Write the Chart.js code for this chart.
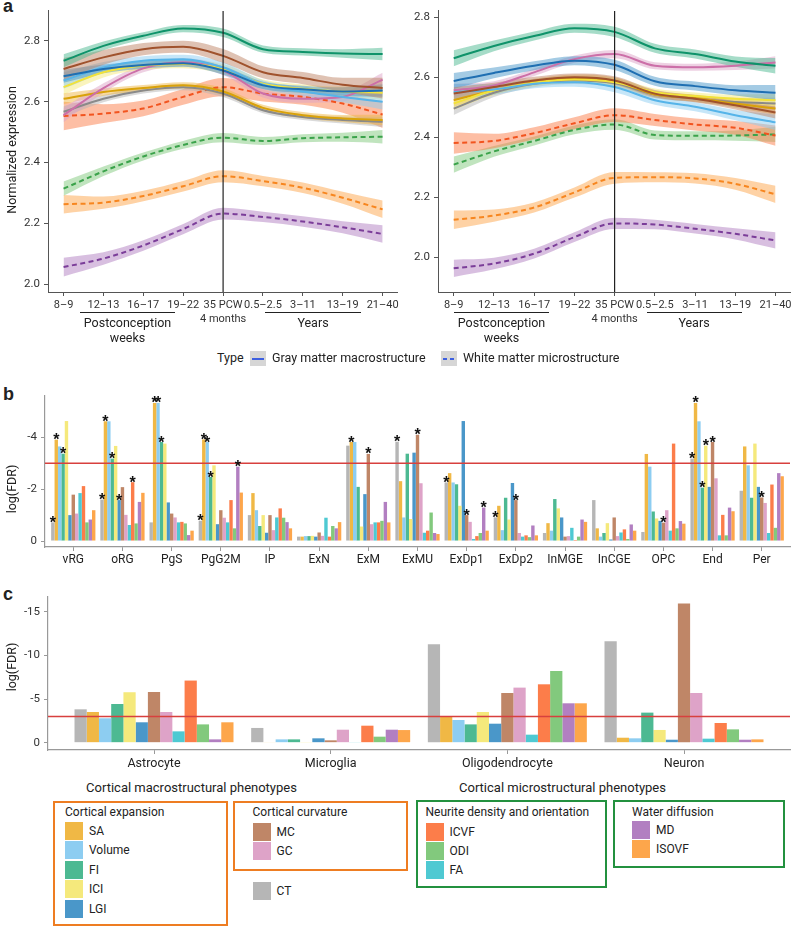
<!DOCTYPE html>
<html lang="en">
<head>
<meta charset="UTF-8">
<meta name="viewport" content="width=device-width, initial-scale=1.0">
<title>Imaging phenotypes: expression trajectories and cell-type enrichment</title>
<script src="https://cdn.jsdelivr.net/npm/chart.js"></script>
<style>
  body { margin: 0; width: 796px; height: 930px; position: relative; overflow: hidden; background: #fff;
         font-family: Roboto, "Liberation Sans", Arial, sans-serif; color: #222; }
  canvas { position: absolute; }
  .t { position: absolute; white-space: nowrap; line-height: 16px; }
  .letter { position: absolute; font-family: "Liberation Sans", Arial, sans-serif; font-weight: bold; font-size: 18px; line-height: 18px; }
  .box { position: absolute; box-sizing: border-box; border: 2.5px solid; }
  .sw { position: absolute; width: 18px; height: 18px; }
  .hr { position: absolute; height: 1px; background: #222; }
</style>
</head>
<body>
<div class="letter" style="left:3px;top:-3px">a</div>
<div class="letter" style="left:3px;top:385px">b</div>
<div class="letter" style="left:3px;top:585px">c</div>
<canvas id="aLeft" width="400" height="330" style="left:0;top:0"></canvas>
<canvas id="aRight" width="396" height="330" style="left:400px;top:0"></canvas>
<canvas id="bChart" width="796" height="190" style="left:0;top:385px"></canvas>
<canvas id="cChart" width="796" height="190" style="left:0;top:585px"></canvas>
<div id="overlay"></div>

<script>
// ---------- panel a: expression trajectories ----------
const ageLabels = ['8–9', '12–13', '16–17', '19–22', ['35 PCW', '4 months'], '0.5–2.5', '3–11', '13–19', '21–40'];
const birthIndex = 4;
const exprTicks = [2.0, 2.2, 2.4, 2.6, 2.8];
const trajNames = ['FI', 'MC', 'LGI', 'Volume', 'ICI', 'GC', 'SA', 'CT', 'ICVF', 'ODI', 'ISOVF', 'MD'];
const trajLineColors = ['#0f936a', '#a0522d', '#1f6fb2', '#56b4e9', '#f2e23a', '#cc6fa8', '#d9a20a', '#8a8a8a',
                        '#f2541f', '#3ba34b', '#f7861f', '#7b3d99'];
const trajDashed = [false, false, false, false, false, false, false, false, true, true, true, true];
const bandShape = [1.8, 1.2, 1.0, 1.0, 1.15, 1.0, 1.0, 1.15, 1.7];

const leftFI = [2.735, 2.784, 2.817, 2.841, 2.827, 2.773, 2.764, 2.759, 2.757];
const leftMC = [2.708, 2.746, 2.773, 2.781, 2.751, 2.697, 2.678, 2.656, 2.645];
const leftLGI = [2.684, 2.708, 2.721, 2.727, 2.703, 2.654, 2.641, 2.634, 2.637];
const leftVolume = [2.670, 2.713, 2.735, 2.740, 2.713, 2.656, 2.634, 2.616, 2.600];
const leftICI = [2.648, 2.697, 2.719, 2.724, 2.708, 2.659, 2.643, 2.634, 2.630];
const leftGC = [2.556, 2.645, 2.710, 2.730, 2.703, 2.627, 2.610, 2.616, 2.673];
const leftSA = [2.610, 2.632, 2.645, 2.654, 2.634, 2.580, 2.556, 2.545, 2.540];
const leftCT = [2.567, 2.610, 2.637, 2.648, 2.627, 2.572, 2.550, 2.540, 2.534];
const leftICVF = [2.553, 2.561, 2.578, 2.616, 2.648, 2.627, 2.616, 2.594, 2.558];
const leftODI = [2.314, 2.371, 2.420, 2.458, 2.482, 2.471, 2.480, 2.483, 2.485];
const leftISOVF = [2.263, 2.268, 2.290, 2.322, 2.355, 2.339, 2.317, 2.284, 2.246];
const leftMD = [2.056, 2.084, 2.127, 2.181, 2.232, 2.221, 2.206, 2.187, 2.165];
const leftBand = [0.012, 0.02, 0.012, 0.015, 0.014, 0.013, 0.01, 0.01, 0.026, 0.013, 0.017, 0.017];

const rightFI = [2.664, 2.705, 2.738, 2.764, 2.752, 2.697, 2.678, 2.653, 2.639];
const rightMC = [2.546, 2.568, 2.590, 2.601, 2.590, 2.546, 2.529, 2.507, 2.483];
const rightLGI = [2.588, 2.615, 2.639, 2.656, 2.642, 2.587, 2.571, 2.557, 2.549];
const rightVolume = [2.551, 2.560, 2.579, 2.584, 2.568, 2.524, 2.502, 2.474, 2.450];
const rightICI = [2.513, 2.557, 2.582, 2.593, 2.584, 2.551, 2.538, 2.529, 2.524];
const rightGC = [2.557, 2.573, 2.617, 2.661, 2.678, 2.639, 2.634, 2.639, 2.650];
const rightSA = [2.524, 2.557, 2.584, 2.598, 2.587, 2.543, 2.531, 2.513, 2.496];
const rightCT = [2.496, 2.549, 2.579, 2.590, 2.581, 2.543, 2.529, 2.518, 2.513];
const rightICVF = [2.381, 2.388, 2.414, 2.447, 2.474, 2.458, 2.443, 2.432, 2.406];
const rightODI = [2.309, 2.353, 2.388, 2.425, 2.443, 2.408, 2.405, 2.406, 2.410];
const rightISOVF = [2.125, 2.139, 2.166, 2.216, 2.265, 2.267, 2.263, 2.245, 2.210];
const rightMD = [1.963, 1.979, 2.012, 2.067, 2.113, 2.109, 2.095, 2.078, 2.056];
const rightBand = [0.015, 0.012, 0.015, 0.015, 0.012, 0.012, 0.012, 0.012, 0.02, 0.015, 0.017, 0.016];

// ---------- panels b and c: enrichment log(FDR) ----------
const phenoNames = ['CT', 'SA', 'Volume', 'FI', 'ICI', 'LGI', 'MC', 'GC', 'FA', 'ICVF', 'ODI', 'MD', 'ISOVF'];
const phenoColors = ['#b6b6b6', '#f0b845', '#8dcdf1', '#4db992', '#f5e97c', '#4a97c9', '#bf8667', '#dea3c8',
                     '#4ec9d2', '#fc7d4a', '#82c97d', '#b27fc1', '#fda64b'];
const fdrThreshold = -3;

const devCellTypes = ['vRG', 'oRG', 'PgS', 'PgG2M', 'IP', 'ExN', 'ExM', 'ExMU', 'ExDp1', 'ExDp2', 'InMGE', 'InCGE', 'OPC', 'End', 'Per'];
const devTicks = [-4, -2, 0];
const bCT = [-0.72, -1.6, -0.72, -0.78, -1.0, -0.17, -3.68, -3.83, -2.26, -0.91, -0.31, -1.58, -0.35, -3.18, -1.94];
const bSA = [-3.91, -4.62, -5.33, -3.92, -1.85, -0.17, -3.82, -2.31, -2.62, -1.36, -0.69, -0.49, -3.36, -5.33, -3.65];
const bVolume = [-3.65, -4.62, -5.33, -3.82, -1.19, -0.19, -3.82, -0.91, -2.26, -0.42, -0.4, -0.17, -2.87, -4.62, -2.92];
const bFI = [-3.37, -3.18, -3.82, -2.47, -0.58, -0.19, -2.09, -3.37, -2.19, -1.67, -1.62, -0.31, -1.14, -2.06, -1.67];
const bICI = [-4.63, -3.67, -3.76, -2.92, -1.0, -0.2, -0.56, -0.85, -1.36, -0.83, -1.26, -0.69, -0.87, -3.68, -3.76];
const bLGI = [-1.0, -1.58, -1.49, -0.65, -0.32, -0.17, -1.81, -3.41, -4.63, -2.24, -0.91, -0.06, -0.78, -2.09, -2.09];
const bMC = [-1.79, -2.08, -1.06, -1.19, -1.0, -0.33, -3.36, -4.1, -1.0, -1.58, -0.17, -0.91, -0.71, -3.82, -1.68];
const bGC = [-1.06, -1.01, -0.91, -0.9, -0.42, -0.2, -0.65, -2.23, -0.74, -0.31, -0.19, -0.19, -1.19, -2.42, -1.47];
const bFA = [-1.85, -0.62, -0.72, -0.72, -0.91, -0.9, -0.72, -0.32, -0.08, -0.17, -0.51, -0.33, -0.4, -0.22, -0.31];
const bICVF = [-2.12, -2.27, -0.74, -1.58, -1.26, -0.17, -0.72, -0.4, -0.19, -0.22, -0.04, -0.45, -3.76, -1.01, -2.18];
const bODI = [-0.72, -0.68, -0.68, -0.49, -0.9, -0.58, -0.78, -1.1, -0.31, -0.15, -0.17, -0.08, -0.49, -0.22, -0.51];
const bMD = [-0.83, -1.51, -0.23, -2.87, -0.73, -0.49, -1.51, -0.31, -1.29, -0.6, -0.83, -0.64, -0.77, -1.29, -2.62];
const bISOVF = [-1.19, -1.86, -0.4, -1.87, -0.49, -0.73, -0.72, -0.27, -0.4, -0.22, -0.74, -0.4, -0.67, -1.15, -2.5];
// [cell type index, phenotype index] pairs marked with an asterisk
const bStars = [[0, 0], [0, 1], [0, 3], [1, 0], [1, 1], [1, 3], [1, 5], [1, 9], [2, 1], [2, 2], [2, 3],
                [3, 0], [3, 1], [3, 2], [3, 3], [3, 11], [6, 1], [6, 6], [7, 0], [7, 6], [8, 0], [8, 6], [8, 11],
                [9, 0], [9, 6], [12, 6], [13, 0], [13, 1], [13, 3], [13, 4], [13, 6], [14, 6]];

const adultCellTypes = ['Astrocyte', 'Microglia', 'Oligodendrocyte', 'Neuron'];
const adultTicks = [-15, -10, -5, 0];
const cCT = [-3.83, -1.69, -11.3, -11.65];
const cSA = [-3.52, -0.05, -2.99, -0.57];
const cVolume = [-2.8, -0.38, -2.6, -0.5];
const cFI = [-4.44, -0.38, -2.1, -3.45];
const cICI = [-5.79, -0.04, -3.52, -1.46];
const cLGI = [-2.34, -0.5, -2.18, -0.34];
const cMC = [-5.82, -0.27, -5.7, -15.98];
const cGC = [-3.52, -1.49, -6.32, -5.7];
const cFA = [-1.3, -0.07, -0.92, -0.46];
const cICVF = [-7.13, -1.95, -6.7, -2.26];
const cODI = [-2.1, -0.69, -8.24, -1.53];
const cMD = [-0.38, -1.49, -4.52, -0.34];
const cISOVF = [-2.34, -1.45, -4.52, -0.38];

Chart.defaults.font.family = 'Roboto, "Liberation Sans", sans-serif';
Chart.defaults.color = '#333';

function rgba(hex, a) {
    const n = parseInt(hex.slice(1), 16);
    return `rgba(${n >> 16},${(n >> 8) & 255},${n & 255},${a})`;
}
function phenoColor(name) {
    return phenoColors[phenoNames.indexOf(name)];
}

const birthLine = {
    id: 'birthLine',
    afterDatasetsDraw(chart) {
        const x = chart.scales.x.getPixelForValue(birthIndex);
        const { top, bottom } = chart.chartArea;
        const ctx = chart.ctx;
        ctx.save();
        ctx.strokeStyle = '#222';
        ctx.lineWidth = 1.2;
        ctx.beginPath();
        ctx.moveTo(x, top);
        ctx.lineTo(x, bottom);
        ctx.stroke();
        ctx.restore();
    }
};

const thresholdLine = {
    id: 'thresholdLine',
    afterDatasetsDraw(chart) {
        const y = chart.scales.y.getPixelForValue(fdrThreshold);
        const { left, right } = chart.chartArea;
        const ctx = chart.ctx;
        ctx.save();
        ctx.strokeStyle = '#d8403e';
        ctx.lineWidth = 1.6;
        ctx.beginPath();
        ctx.moveTo(left, y);
        ctx.lineTo(right, y);
        ctx.stroke();
        ctx.restore();
    }
};

const starMarks = {
    id: 'starMarks',
    afterDatasetsDraw(chart) {
        const ctx = chart.ctx;
        ctx.save();
        ctx.fillStyle = '#111';
        ctx.font = 'bold 16px "Liberation Sans"';
        ctx.textAlign = 'center';
        ctx.textBaseline = 'alphabetic';
        bStars.forEach(([c, s]) => {
            const bar = chart.getDatasetMeta(s).data[c];
            ctx.fillText('*', bar.x, bar.y + 5.5);
        });
        ctx.restore();
    }
};

function drawTrajectories(canvasId, series, band, yMin, yMax, yWidth, padRight) {
    const datasets = [];
    series.forEach((vals, k) => {
        const common = { pointRadius: 0, borderWidth: 0, borderColor: 'transparent', cubicInterpolationMode: 'monotone', order: 2 };
        datasets.push({ ...common, fill: false, data: vals.map((v, i) => ({ x: i, y: v + band[k] * bandShape[i] })) });
        datasets.push({ ...common, fill: '-1', backgroundColor: rgba(phenoColor(trajNames[k]), 0.5),
                        data: vals.map((v, i) => ({ x: i, y: v - band[k] * bandShape[i] })) });
    });
    series.forEach((vals, k) => {
        datasets.push({
            data: vals.map((v, i) => ({ x: i, y: v })),
            borderColor: trajLineColors[k],
            borderWidth: 2,
            borderDash: trajDashed[k] ? [5, 3.5] : [],
            pointRadius: 0,
            fill: false,
            cubicInterpolationMode: 'monotone',
            order: 1
        });
    });
    new Chart(document.getElementById(canvasId), {
        type: 'line',
        data: { datasets },
        options: {
            responsive: false,
            animation: false,
            events: [],
            layout: { padding: { top: 8, right: padRight, left: 0, bottom: 0 } },
            plugins: { legend: { display: false }, tooltip: { enabled: false }, filler: { drawTime: 'beforeDatasetsDraw' } },
            scales: {
                x: {
                    type: 'linear', min: -0.39, max: 8.36, offset: false,
                    afterBuildTicks: s => { s.ticks = ageLabels.map((_, i) => ({ value: i })); },
                    afterFit: s => { s.height = 38; s.paddingLeft = 0; s.paddingRight = 0; },
                    ticks: { callback: v => ageLabels[Math.round(v)], autoSkip: false, maxRotation: 0, padding: 3,
                             font: { size: 11 }, color: '#333' },
                    grid: { drawOnChartArea: false, tickLength: 4, color: '#555' },
                    border: { color: '#555' }
                },
                y: {
                    min: yMin, max: yMax,
                    afterBuildTicks: s => { s.ticks = exprTicks.map(v => ({ value: v })); },
                    afterFit: s => { s.width = yWidth; },
                    ticks: { callback: v => v.toFixed(1), padding: 4, font: { size: 11.5 }, color: '#333' },
                    grid: { drawOnChartArea: false, tickLength: 4, color: '#555' },
                    border: { color: '#555' }
                }
            }
        },
        plugins: [birthLine]
    });
}

function drawEnrichment(canvasId, cats, values, ticks, yMin, yMax, xMin, xMax, box, labelSize, extra) {
    const datasets = values.map((vals, s) => ({
        data: vals.map((v, i) => ({ x: i, y: v })),
        backgroundColor: phenoColors[s],
        borderWidth: 0,
        categoryPercentage: 0.9,
        barPercentage: 1.0
    }));
    new Chart(document.getElementById(canvasId), {
        type: 'bar',
        data: { datasets },
        options: {
            responsive: false,
            animation: false,
            events: [],
            layout: { padding: { top: box.top, right: box.right, left: 0, bottom: 0 } },
            plugins: { legend: { display: false }, tooltip: { enabled: false } },
            scales: {
                x: {
                    type: 'linear', min: xMin, max: xMax, offset: false,
                    afterBuildTicks: s => { s.ticks = cats.map((_, i) => ({ value: i })); },
                    afterFit: s => { s.height = box.xHeight; s.paddingLeft = 0; s.paddingRight = 0; },
                    ticks: { callback: v => cats[Math.round(v)], autoSkip: false, maxRotation: 0, padding: 2,
                             font: { size: labelSize }, color: '#222' },
                    grid: { drawOnChartArea: false, offset: false, tickLength: 4, color: '#999' },
                    border: { color: '#999', width: 1.2 }
                },
                y: {
                    reverse: true, min: yMin, max: yMax,
                    afterBuildTicks: s => { s.ticks = ticks.map(v => ({ value: v })); },
                    afterFit: s => { s.width = box.yWidth; },
                    ticks: { callback: v => String(v), padding: 4, font: { size: 11.5 }, color: '#333' },
                    grid: { drawOnChartArea: false, tickLength: 4, color: '#999' },
                    border: { color: '#999', width: 1.2 }
                }
            }
        },
        plugins: [thresholdLine].concat(extra)
    });
}

drawTrajectories('aLeft',
    [leftFI, leftMC, leftLGI, leftVolume, leftICI, leftGC, leftSA, leftCT, leftICVF, leftODI, leftISOVF, leftMD],
    leftBand, 1.974, 2.899, 48, 3);
drawTrajectories('aRight',
    [rightFI, rightMC, rightLGI, rightVolume, rightICI, rightGC, rightSA, rightCT, rightICVF, rightODI, rightISOVF, rightMD],
    rightBand, 1.884, 2.822, 38, 6);

drawEnrichment('bChart', devCellTypes,
    [bCT, bSA, bVolume, bFI, bICI, bLGI, bMC, bGC, bFA, bICVF, bODI, bMD, bISOVF],
    devTicks, -5.6, 0.23, -0.575, 14.575, { top: 10, right: 6, xHeight: 28, yWidth: 45 }, 12, [starMarks]);
drawEnrichment('cChart', adultCellTypes,
    [cCT, cSA, cVolume, cFI, cICI, cLGI, cMC, cGC, cFA, cICVF, cODI, cMD, cISOVF],
    adultTicks, -16.72, 0.84, -0.6, 3.6, { top: 12, right: 6, xHeight: 25, yWidth: 48 }, 12.5, []);

// ---------- text, axis titles and legends ----------
const overlay = document.getElementById('overlay');
function text(str, x, y, opts = {}) {
    const d = document.createElement('div');
    d.className = 't';
    d.textContent = str;
    d.style.left = x + 'px';
    d.style.top = (y - 8) + 'px';
    d.style.fontSize = (opts.size || 12) + 'px';
    if (opts.center) d.style.transform = 'translateX(-50%)';
    if (opts.rotate) {
        d.style.top = y + 'px';
        d.style.transform = 'translate(-50%,-50%) rotate(-90deg)';
    }
    overlay.appendChild(d);
    return d;
}
function rule(x1, x2, y) {
    const d = document.createElement('div');
    d.className = 'hr';
    d.style.left = x1 + 'px';
    d.style.width = (x2 - x1) + 'px';
    d.style.top = y + 'px';
    overlay.appendChild(d);
}
function block(cls, x, y, w, h, css) {
    const d = document.createElement('div');
    d.className = cls;
    Object.assign(d.style, { left: x + 'px', top: y + 'px', width: w + 'px', height: h + 'px' }, css);
    overlay.appendChild(d);
    return d;
}

text('Normalized expression', 11.5, 150, { size: 12.5, rotate: true });
text('log(FDR)', 11.5, 489, { size: 12.5, rotate: true });
text('log(FDR)', 11.5, 667, { size: 12.5, rotate: true });

// age group brackets under the x axes
[[80, 175, 313, 265, 361], [454, 549, 694, 647, 742]].forEach(([p1, p2, yc, y1, y2]) => {
    rule(p1, p2, 312);
    text('Postconception', (p1 + p2) / 2, 323, { size: 12.5, center: true });
    text('weeks', (p1 + p2) / 2, 338, { size: 12.5, center: true });
    rule(y1, y2, 312);
    text('Years', yc, 323, { size: 12.5, center: true });
});

// type legend
text('Type', 217, 358, { size: 12.5 });
block('sw', 250, 351, 16, 15, { background: '#d6d6d6' });
block('sw', 252, 357.5, 12, 2, { background: '#3d5fe0' });
text('Gray matter macrostructure', 272, 358, { size: 12.5 });
block('sw', 441, 351, 16, 15, { background: '#d6d6d6' });
block('sw', 443, 357.5, 4, 2, { background: '#3d5fe0' });
block('sw', 450, 357.5, 4, 2, { background: '#3d5fe0' });
text('White matter microstructure', 463, 358, { size: 12.5 });

// phenotype legend
text('Cortical macrostructural phenotypes', 191.5, 788, { size: 13, center: true });
text('Cortical microstructural phenotypes', 562.5, 788, { size: 13, center: true });
const legendGroups = [
    { title: 'Cortical expansion', names: ['SA', 'Volume', 'FI', 'ICI', 'LGI'], box: [53, 801, 175, 125], edge: '#ee7d22', x: 65, y0: 831 },
    { title: 'Cortical curvature', names: ['MC', 'GC'], box: [233, 801, 175, 70], edge: '#ee7d22', x: 252.5, y0: 831.5 },
    { title: 'Neurite density and orientation', names: ['ICVF', 'ODI', 'FA'], box: [416, 800, 191, 88], edge: '#23913f', x: 425.5, y0: 831.5 },
    { title: 'Water diffusion', names: ['MD', 'ISOVF'], box: [613, 800, 172, 68], edge: '#23913f', x: 632, y0: 830 }
];
legendGroups.forEach(g => {
    block('box', g.box[0], g.box[1], g.box[2], g.box[3], { borderColor: g.edge });
    text(g.title, g.x, 812, { size: 12 });
    g.names.forEach((n, i) => {
        const yc = g.y0 + i * 19.4;
        block('sw', g.x, yc - 9, 18, 18, { background: phenoColor(n) });
        text(n, g.x + 24, yc, { size: 12 });
    });
});
block('sw', 252.5, 882, 18, 18, { background: phenoColor('CT') });
text('CT', 276.5, 891, { size: 12 });
</script>
</body>
</html>
